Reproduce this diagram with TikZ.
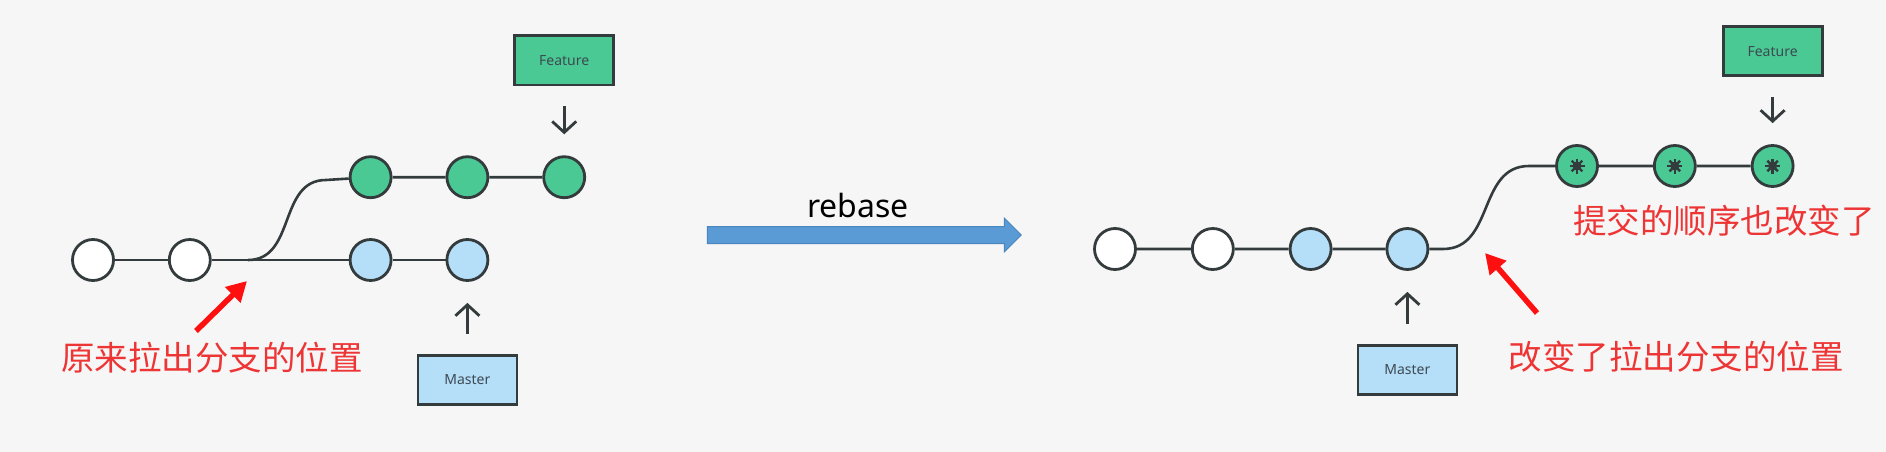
\documentclass[tikz,border=0pt]{standalone}
\usepackage{fontspec}
\setmainfont{Noto Sans}
\newfontfamily\cjkfont{Noto Sans CJK SC}
\usepackage{xcolor}
\usepackage{tikz}
\usetikzlibrary{arrows.meta,positioning,shapes.arrows}
\definecolor{bgc}{HTML}{F6F6F6}
\definecolor{ink}{HTML}{343B3D}
\definecolor{featgreen}{HTML}{4BC994}
\definecolor{masterblue}{HTML}{B5DEF9}
\definecolor{tagtext}{HTML}{3C4A52}
\definecolor{notered}{HTML}{EE3535}
\definecolor{hintred}{HTML}{FF1010}
\definecolor{rebaseblue}{HTML}{5B9BD5}
\definecolor{rebaseedge}{HTML}{4A86BE}

\begin{document}
\begin{tikzpicture}[
    x=1pt, y=-1pt,
    commit/.style={circle, draw=ink, line width=2.8pt, minimum size=41pt, inner sep=0pt},
    oldc/.style={commit, fill=white},
    featc/.style={commit, fill=featgreen},
    mastc/.style={commit, fill=masterblue},
    movedc/.style={featc, path picture={
        \fill[ink] (path picture bounding box.center) circle (4.5pt);
        \foreach \a in {0,45,...,315} \draw[ink, line width=2.4pt] (path picture bounding box.center) -- ++(\a:7.5pt);}},
    tag/.style={draw=ink, line width=2.8pt, minimum width=99pt, minimum height=49pt, inner sep=0pt, text=tagtext, font=\fontsize{14}{16}\selectfont},
    feattag/.style={tag, fill=featgreen},
    masttag/.style={tag, fill=masterblue},
    branch/.style={draw=ink, line width=2.6pt},
    ptr/.style={draw=ink, line width=2.8pt, -{Straight Barb[length=11pt,width=24pt]}, shorten <=20pt, shorten >=21pt},
    note/.style={text=notered, inner sep=0pt, font=\cjkfont\fontsize{33.5}{36}\selectfont},
    hint/.style={draw=hintred, line width=5.5pt, -{Triangle[length=20pt,width=21pt]}},
    rebasearrow/.style={single arrow, fill=rebaseblue, draw=rebaseedge, line width=1pt, text height=16pt, text depth=0pt, minimum height=314pt, single arrow head extend=8.5pt, single arrow tip angle=90, inner sep=0pt}
]
\fill[bgc] (0,0) rectangle (1886,452);
\useasboundingbox (0,0) rectangle (1886,452);

\node[oldc] (w1a) at (93,260) {};
\node[oldc, right=53pt of w1a] (w2a) {};
\node[mastc, right=137pt of w2a] (b1a) {};
\node[mastc, right=53pt of b1a] (b2a) {};
\node[featc, above=39pt of b1a] (g1a) {};
\node[featc, right=53pt of g1a] (g2a) {};
\node[featc, right=53pt of g2a] (g3a) {};
\node[feattag, above=69pt of g3a] (feata) {Feature};
\node[masttag, below=72pt of b2a] (masta) {Master};
\coordinate (forka) at (248,260);
\coordinate (benda) at (326,180);
\coordinate (taila) at (196,331);
\coordinate (tipa) at (247,281);
\node[note] (notea) at (212,358) {原来拉出分支的位置};

\node[rebasearrow] (rebase) at (860,235) {};
\node[anchor=base, font=\fontsize{32}{36}\selectfont] (rebaselbl) at (858,217) {rebase};

\node[oldc] (w1b) at (1115,249) {};
\node[oldc, right=54pt of w1b] (w2b) {};
\node[mastc, right=54pt of w2b] (b1b) {};
\node[mastc, right=53pt of b1b] (b2b) {};
\node[movedc] (g1b) at (1577,166) {};
\node[movedc, right=54pt of g1b] (g2b) {};
\node[movedc, right=54pt of g2b] (g3b) {};
\node[feattag, above=67pt of g3b] (featb) {Feature};
\node[masttag, below=73pt of b2b] (mastb) {Master};
\coordinate (forkb) at (1443,249);
\coordinate (bendb) at (1529,166);
\coordinate (tailb) at (1537,313);
\coordinate (tipb) at (1485,253);
\node[note] (noteb) at (1724,221) {提交的顺序也改变了};
\node[note] (notec) at (1676,357) {改变了拉出分支的位置};

\draw[branch] (w1a) -- (w2a) -- (b1a) -- (b2a);
\draw[branch] (forka) to[out=0,in=180,looseness=1.1] (benda) -- (g1a) -- (g2a) -- (g3a);
\draw[ptr] (feata) -- (g3a);
\draw[ptr] (masta) -- (b2a);
\draw[hint] (taila) -- (tipa);

\draw[branch] (w1b) -- (w2b) -- (b1b) -- (b2b) -- (forkb) to[out=0,in=180,looseness=1.1] (bendb) -- (g1b) -- (g2b) -- (g3b);
\draw[ptr] (featb) -- (g3b);
\draw[ptr] (mastb) -- (b2b);
\draw[hint] (tailb) -- (tipb);
\end{tikzpicture}
\end{document}
